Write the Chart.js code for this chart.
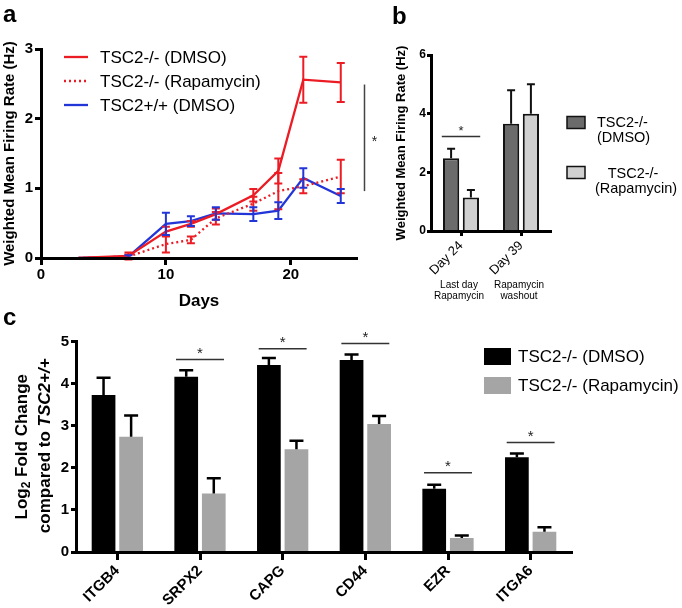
<!DOCTYPE html>
<html>
<head>
<meta charset="utf-8">
<script src="https://cdn.jsdelivr.net/npm/chart.js@4.4.1/dist/chart.umd.min.js"></script>
<style>
  html, body { margin: 0; padding: 0; background: #fff; }
  #page { position: relative; width: 682px; height: 608px; overflow: hidden; }
  canvas { position: absolute; }
  #chartA { left: 0; top: 0; }
  #chartB { left: 390px; top: 0; }
  #chartC { left: 0; top: 300px; }
</style>
</head>
<body>
<div id="page">
  <canvas id="chartA" width="400" height="310"></canvas>
  <canvas id="chartB" width="292" height="305"></canvas>
  <canvas id="chartC" width="682" height="308"></canvas>
</div>
<script>
// ---- panel a: firing rate over days ----
const days = [3, 7, 10, 12, 14, 17, 19, 21, 24];
const koDmso = [0, 0.03, 0.38, 0.49, 0.63, 0.9, 1.25, 2.56, 2.52];
const koDmsoErr = [0, 0.05, 0.07, 0.04, 0.08, 0.09, 0.18, 0.33, 0.28];
const koRapa = [0, 0.02, 0.2, 0.26, 0.57, 0.78, 0.96, 1.03, 1.17];
const koRapaErr = [0, 0.03, 0.12, 0.05, 0.09, 0.1, 0.26, 0.1, 0.24];
const wtDmso = [0, 0.02, 0.49, 0.53, 0.64, 0.63, 0.68, 1.15, 0.89];
const wtDmsoErr = [0, 0.02, 0.16, 0.07, 0.09, 0.1, 0.12, 0.14, 0.1];
const aTicks = [0, 10, 20];
const aSig = [0.96, 2.49];

// ---- panel b: day 24 vs day 39 ----
const bCats = ['Day 24', 'Day 39'];
const bNotes = [['Last day', 'Rapamycin'], ['Rapamycin', 'washout']];
const bDmso = [2.48, 3.66];
const bDmsoErr = [0.32, 1.14];
const bRapa = [1.14, 4.0];
const bRapaErr = [0.26, 1.0];
const bSig = [3.22, null];

// ---- panel c: gene expression ----
const genes = ['ITGB4', 'SRPX2', 'CAPG', 'CD44', 'EZR', 'ITGA6'];
const cDmso = [3.73, 4.16, 4.44, 4.56, 1.5, 2.25];
const cDmsoErr = [0.41, 0.16, 0.17, 0.13, 0.1, 0.09];
const cRapa = [2.74, 1.39, 2.44, 3.04, 0.33, 0.48];
const cRapaErr = [0.5, 0.36, 0.2, 0.19, 0.06, 0.11];
const cSig = [null, 4.57, 4.83, 4.95, 1.88, 2.6];

const FONT = "'Liberation Sans', Arial, Helvetica, sans-serif";
Chart.defaults.font.family = FONT;
Chart.defaults.color = '#000';

const RED = '#ec1c24';
const BLUE = '#2236d8';

function pts(xs, ys) {
  return xs.map((x, i) => ({ x: x, y: ys[i] }));
}

function axisStyle(tickLen) {
  return {
    grid: { drawOnChartArea: false, drawTicks: true, tickLength: tickLen, tickWidth: 3, tickColor: '#000', offset: false },
    border: { display: true, color: '#000', width: 3, z: 1 }
  };
}

// error bars drawn from the dataset's "errors" array
const errorBars = {
  id: 'errorBars',
  afterDatasetsDraw(chart, args, opts) {
    const ctx = chart.ctx;
    const ys = chart.scales.y;
    chart.data.datasets.forEach((ds, i) => {
      if (!ds.errors) return;
      const meta = chart.getDatasetMeta(i);
      ctx.save();
      ctx.strokeStyle = ds.errorColor || ds.borderColor;
      ctx.lineWidth = opts.width || 2;
      ctx.setLineDash([]);
      meta.data.forEach((el, j) => {
        const e = ds.errors[j];
        if (!e) return;
        const v = typeof ds.data[j] === 'object' ? ds.data[j].y : ds.data[j];
        const top = ys.getPixelForValue(v + e);
        const bot = opts.upOnly ? el.y : ys.getPixelForValue(v - e);
        const half = opts.cap / 2;
        ctx.beginPath();
        ctx.moveTo(el.x, top);
        ctx.lineTo(el.x, bot);
        ctx.moveTo(el.x - half, top);
        ctx.lineTo(el.x + half, top);
        if (!opts.upOnly) {
          ctx.moveTo(el.x - half, bot);
          ctx.lineTo(el.x + half, bot);
        }
        ctx.stroke();
      });
      ctx.restore();
    });
  }
};

function star(ctx, x, y, size) {
  ctx.font = size + 'px ' + FONT;
  ctx.textAlign = 'center';
  ctx.textBaseline = 'alphabetic';
  ctx.fillStyle = '#222';
  ctx.fillText('*', x, y);
}

const panelA = {
  id: 'panelA',
  afterDraw(chart) {
    const ctx = chart.ctx;
    const x = chart.scales.x, y = chart.scales.y;
    ctx.save();
    ctx.fillStyle = '#000';
    ctx.font = 'bold 24px ' + FONT;
    ctx.textAlign = 'left';
    ctx.textBaseline = 'alphabetic';
    ctx.fillText('a', 3, 22);

    // legend
    const rowY = [57, 81, 105];
    chart.data.datasets.forEach((ds, i) => {
      ctx.strokeStyle = ds.borderColor;
      ctx.lineWidth = 2.3;
      ctx.setLineDash(ds.borderDash || []);
      ctx.beginPath();
      ctx.moveTo(64, rowY[i]);
      ctx.lineTo(88, rowY[i]);
      ctx.stroke();
      ctx.setLineDash([]);
      ctx.fillStyle = '#000';
      ctx.font = '17px ' + FONT;
      ctx.textBaseline = 'middle';
      ctx.fillText(ds.label, 100, rowY[i] + 1);
    });

    // significance bar at the right
    const sx = x.getPixelForValue(25.9);
    ctx.strokeStyle = '#444';
    ctx.lineWidth = 1.5;
    ctx.beginPath();
    ctx.moveTo(sx, y.getPixelForValue(aSig[1]));
    ctx.lineTo(sx, y.getPixelForValue(aSig[0]));
    ctx.stroke();
    star(ctx, sx + 10, y.getPixelForValue((aSig[0] + aSig[1]) / 2) + 8, 14);
    ctx.restore();
  }
};

const panelB = {
  id: 'panelB',
  afterDraw(chart) {
    const ctx = chart.ctx;
    const x = chart.scales.x, y = chart.scales.y;
    const w = x.width / bCats.length;
    ctx.save();
    ctx.fillStyle = '#000';
    ctx.font = 'bold 24px ' + FONT;
    ctx.textBaseline = 'alphabetic';
    ctx.fillText('b', 2, 24);

    // notes under the rotated labels
    ctx.font = '10px ' + FONT;
    ctx.textAlign = 'center';
    ctx.textBaseline = 'middle';
    bNotes.forEach((lines, i) => {
      const cx = x.getPixelForValue(i);
      ctx.fillText(lines[0], cx - 2, 285.5);
      ctx.fillText(lines[1], cx - 2, 296);
    });

    // significance
    bSig.forEach((v, i) => {
      if (v == null) return;
      const cx = x.getPixelForValue(i);
      const py = y.getPixelForValue(v);
      ctx.strokeStyle = '#333';
      ctx.lineWidth = 1.5;
      ctx.beginPath();
      ctx.moveTo(cx - 0.32 * w, py);
      ctx.lineTo(cx + 0.32 * w, py);
      ctx.stroke();
      star(ctx, cx, py - 2, 13);
    });

    // legend
    ctx.textAlign = 'left';
    ctx.textBaseline = 'middle';
    chart.data.datasets.forEach((ds, i) => {
      const by = [116.5, 166.5][i];
      ctx.fillStyle = ds.backgroundColor;
      ctx.fillRect(177, by, 18, 12);
      ctx.strokeStyle = '#111';
      ctx.lineWidth = 1.5;
      ctx.strokeRect(177, by, 18, 12);
    });
    ctx.fillStyle = '#000';
    ctx.font = '14.5px ' + FONT;
    ctx.fillText('TSC2-/-', 207, 123);
    ctx.fillText('(DMSO)', 207, 138);
    ctx.textAlign = 'center';
    ctx.fillText('TSC2-/-', 243, 174);
    ctx.fillText('(Rapamycin)', 246, 189);
    ctx.restore();
  }
};

const panelC = {
  id: 'panelC',
  afterDraw(chart) {
    const ctx = chart.ctx;
    const x = chart.scales.x, y = chart.scales.y;
    const w = x.width / genes.length;
    ctx.save();
    ctx.fillStyle = '#000';
    ctx.font = 'bold 24px ' + FONT;
    ctx.textBaseline = 'alphabetic';
    ctx.fillText('c', 3, 25);

    // y title with subscript and italic
    const cy = (y.top + y.bottom) / 2;
    ctx.save();
    ctx.translate(22, cy);
    ctx.rotate(-Math.PI / 2);
    ctx.textBaseline = 'middle';
    ctx.textAlign = 'left';
    const big = 'bold 17px ' + FONT, small = 'bold 12px ' + FONT;
    ctx.font = big;
    const wLog = ctx.measureText('Log').width;
    const wRest = ctx.measureText(' Fold Change').width;
    ctx.font = small;
    const wSub = ctx.measureText('2').width;
    let sx = -(wLog + wSub + wRest) / 2;
    ctx.font = big;
    ctx.fillText('Log', sx, 0);
    ctx.font = small;
    ctx.fillText('2', sx + wLog, 5);
    ctx.font = big;
    ctx.fillText(' Fold Change', sx + wLog + wSub, 0);
    ctx.restore();

    ctx.save();
    ctx.translate(45, cy - 1);
    ctx.rotate(-Math.PI / 2);
    ctx.textBaseline = 'middle';
    ctx.textAlign = 'left';
    const it = 'italic bold 17px ' + FONT;
    ctx.font = big;
    const w1 = ctx.measureText('compared to ').width;
    ctx.font = it;
    const w2 = ctx.measureText('TSC2+/+').width;
    sx = -(w1 + w2) / 2;
    ctx.font = big;
    ctx.fillText('compared to ', sx, 0);
    ctx.font = it;
    ctx.fillText('TSC2+/+', sx + w1, 0);
    ctx.restore();

    // significance lines
    cSig.forEach((v, i) => {
      if (v == null) return;
      const cx = x.getPixelForValue(i);
      const py = y.getPixelForValue(v);
      ctx.strokeStyle = '#333';
      ctx.lineWidth = 1.5;
      ctx.beginPath();
      ctx.moveTo(cx - 0.29 * w, py);
      ctx.lineTo(cx + 0.29 * w, py);
      ctx.stroke();
      star(ctx, cx, py - 2, 15);
    });

    // legend
    ctx.textAlign = 'left';
    ctx.textBaseline = 'middle';
    chart.data.datasets.forEach((ds, i) => {
      const by = [48, 77][i];
      ctx.fillStyle = ds.backgroundColor;
      ctx.fillRect(484, by, 27, 17);
      ctx.fillStyle = '#000';
      ctx.font = '17px ' + FONT;
      ctx.fillText(ds.label, 518, by + 9);
    });
    ctx.restore();
  }
};

// ---- chart a ----
new Chart(document.getElementById('chartA'), {
  type: 'line',
  data: {
    datasets: [
      { label: 'TSC2-/- (DMSO)', data: pts(days, koDmso), errors: koDmsoErr, borderColor: RED, borderWidth: 2.3 },
      { label: 'TSC2-/- (Rapamycin)', data: pts(days, koRapa), errors: koRapaErr, borderColor: RED, borderWidth: 2.3, borderDash: [2, 3] },
      { label: 'TSC2+/+ (DMSO)', data: pts(days, wtDmso), errors: wtDmsoErr, borderColor: BLUE, borderWidth: 2.3 }
    ]
  },
  options: {
    responsive: false,
    animation: false,
    layout: { padding: { left: 0, right: 43, top: 49, bottom: 0 } },
    elements: { point: { radius: 0 }, line: { tension: 0, fill: false } },
    plugins: { legend: { display: false }, tooltip: { enabled: false }, errorBars: { cap: 8, width: 2 } },
    scales: {
      x: {
        type: 'linear', min: 0, max: 25.3,
        afterBuildTicks: s => { s.ticks = aTicks.map(v => ({ value: v })); },
        afterFit: s => { s.height = 52; },
        ticks: { font: { size: 15, weight: 'bold' }, padding: 1, autoSkip: false },
        title: { display: true, text: 'Days', font: { size: 17, weight: 'bold', lineHeight: 1 }, padding: 0 },
        ...axisStyle(7)
      },
      y: {
        min: 0, max: 3,
        afterFit: s => { s.width = 41; },
        ticks: { stepSize: 1, font: { size: 15, weight: 'bold' }, padding: 2 },
        title: { display: true, text: 'Weighted Mean Firing Rate (Hz)', font: { size: 15, weight: 'bold', lineHeight: 1 }, padding: { top: 2.5, bottom: 0 } },
        ...axisStyle(6)
      }
    }
  },
  plugins: [errorBars, panelA]
});

// ---- chart b ----
new Chart(document.getElementById('chartB'), {
  type: 'bar',
  data: {
    labels: bCats,
    datasets: [
      { label: 'TSC2-/- (DMSO)', data: bDmso, errors: bDmsoErr, backgroundColor: '#6b6b6b', borderColor: '#111', borderWidth: 2, errorColor: '#111' },
      { label: 'TSC2-/- (Rapamycin)', data: bRapa, errors: bRapaErr, backgroundColor: '#d0d0d0', borderColor: '#111', borderWidth: 2, errorColor: '#111' }
    ]
  },
  options: {
    responsive: false,
    animation: false,
    layout: { padding: { left: 0, right: 131, top: 55, bottom: 0 } },
    datasets: { bar: { categoryPercentage: 0.66, barPercentage: 0.82 } },
    plugins: { legend: { display: false }, tooltip: { enabled: false }, errorBars: { cap: 8, width: 2, upOnly: true } },
    scales: {
      x: {
        afterFit: s => { s.height = 74; },
        ticks: { font: { size: 13 }, minRotation: 45, maxRotation: 45, padding: 2, autoSkip: false },
        ...axisStyle(5)
      },
      y: {
        min: 0, max: 6,
        afterFit: s => { s.width = 41; },
        ticks: { stepSize: 2, font: { size: 12, weight: 'bold' }, padding: 1 },
        title: { display: true, text: 'Weighted Mean Firing Rate (Hz)', font: { size: 13, weight: 'bold', lineHeight: 1 }, padding: { top: 4.5, bottom: 0 } },
        ...axisStyle(4)
      }
    }
  },
  plugins: [errorBars, panelB]
});

// ---- chart c ----
new Chart(document.getElementById('chartC'), {
  type: 'bar',
  data: {
    labels: genes,
    datasets: [
      { label: 'TSC2-/- (DMSO)', data: cDmso, errors: cDmsoErr, backgroundColor: '#000', errorColor: '#000' },
      { label: 'TSC2-/- (Rapamycin)', data: cRapa, errors: cRapaErr, backgroundColor: '#a5a5a5', errorColor: '#000' }
    ]
  },
  options: {
    responsive: false,
    animation: false,
    layout: { padding: { left: 0, right: 110, top: 41.5, bottom: 0 } },
    datasets: { bar: { categoryPercentage: 0.667, barPercentage: 0.86 } },
    plugins: { legend: { display: false }, tooltip: { enabled: false }, errorBars: { cap: 14, width: 2.5, upOnly: true } },
    scales: {
      x: {
        afterFit: s => { s.height = 56; },
        ticks: { font: { size: 15, weight: 'bold' }, minRotation: 45, maxRotation: 45, padding: 2, autoSkip: false },
        ...axisStyle(8)
      },
      y: {
        min: 0, max: 5,
        afterFit: s => { s.width = 76; },
        ticks: { stepSize: 1, font: { size: 15, weight: 'bold' }, padding: 2 },
        ...axisStyle(5)
      }
    }
  },
  plugins: [errorBars, panelC]
});
</script>
</body>
</html>
